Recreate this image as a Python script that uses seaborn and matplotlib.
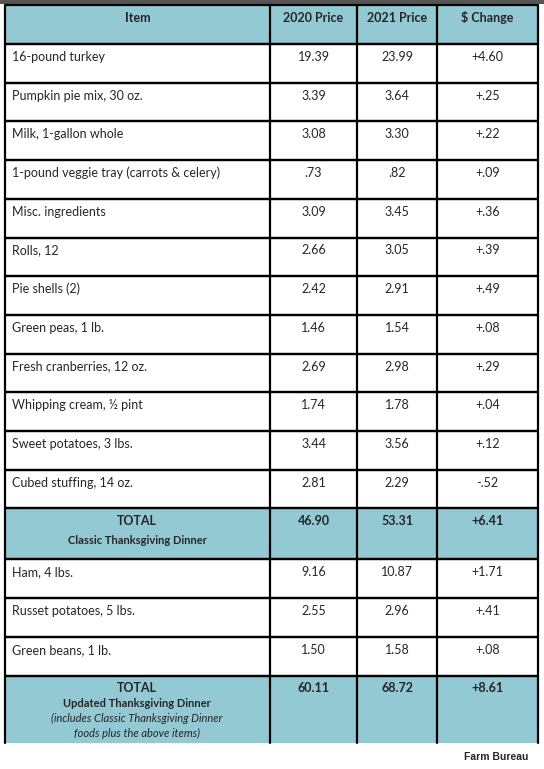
import matplotlib
matplotlib.use("Agg")
import matplotlib.pyplot as plt
import seaborn as sns
from matplotlib.patches import Rectangle

sns.set_theme(style="white")
plt.rcParams['font.family'] = ['Lato', 'DejaVu Sans']

headers = ["Item", "2020 Price", "2021 Price", "$ Change"]
items = ["16-pound turkey", "Pumpkin pie mix, 30 oz.", "Milk, 1-gallon whole",
         "1-pound veggie tray (carrots & celery)", "Misc. ingredients", "Rolls, 12",
         "Pie shells (2)", "Green peas, 1 lb.", "Fresh cranberries, 12 oz.",
         "Whipping cream, ½ pint", "Sweet potatoes, 3 lbs.", "Cubed stuffing, 14 oz."]
p2020 = ["19.39", "3.39", "3.08", ".73", "3.09", "2.66", "2.42", "1.46", "2.69", "1.74", "3.44", "2.81"]
p2021 = ["23.99", "3.64", "3.30", ".82", "3.45", "3.05", "2.91", "1.54", "2.98", "1.78", "3.56", "2.29"]
change = ["+4.60", "+.25", "+.22", "+.09", "+.36", "+.39", "+.49", "+.08", "+.29", "+.04", "+.12", "-.52"]
total1 = ["46.90", "53.31", "+6.41"]
items2 = ["Ham, 4 lbs.", "Russet potatoes, 5 lbs.", "Green beans, 1 lb."]
p2020_2 = ["9.16", "2.55", "1.50"]
p2021_2 = ["10.87", "2.96", "1.58"]
change2 = ["+1.71", "+.41", "+.08"]
total2 = ["60.11", "68.72", "+8.61"]

teal = "#92c9d3"
fig = plt.figure(figsize=(5.44, 7.69), dpi=100)
ax = fig.add_axes([0, 0, 1, 1])
ax.set_xlim(0, 544)
ax.set_ylim(769, 0)
ax.axis("off")

cols = [5, 270, 357, 437, 538]
ax.add_patch(Rectangle((0, 0), 544, 4, color="#555555", lw=0))
rows = []  # (top, bottom, kind)
rows.append((5, 44, "head"))
y = 44
h = 38.7
for i in range(12):
    rows.append((y, y + h, "item")); y += h
rows.append((y, y + 51, "tot1")); y += 51
for i in range(3):
    rows.append((y, y + h, "item2")); y += h
rows.append((y, 743, "tot2"))

fs = 9
k1 = 0; k2 = 0
for top, bot, kind in rows:
    if kind in ("head", "tot1", "tot2"):
        ax.add_patch(Rectangle((cols[0], top), cols[-1] - cols[0], bot - top, color=teal, lw=0))
    if kind == "head":
        for j, t in enumerate(headers):
            ax.text((cols[j] + cols[j + 1]) / 2, top + 13, t, ha="center", va="center", fontsize=fs, weight="bold")
    elif kind in ("item", "item2"):
        if kind == "item":
            vals = [items[k1], p2020[k1], p2021[k1], change[k1]]; k1 += 1
        else:
            vals = [items2[k2], p2020_2[k2], p2021_2[k2], change2[k2]]; k2 += 1
        ax.text(cols[0] + 7, top + 13, vals[0], ha="left", va="center", fontsize=fs)
        for j in range(1, 4):
            ax.text((cols[j] + cols[j + 1]) / 2, top + 13, vals[j], ha="center", va="center", fontsize=fs)
    elif kind == "tot1":
        ax.text(137, top + 13, "TOTAL", ha="center", va="center", fontsize=fs, weight="bold")
        ax.text(137, top + 32, "Classic Thanksgiving Dinner", ha="center", va="center", fontsize=8, weight="bold")
        for j in range(1, 4):
            ax.text((cols[j] + cols[j + 1]) / 2, top + 13, total1[j - 1], ha="center", va="center", fontsize=fs, weight="bold")
    else:
        ax.text(137, top + 12, "TOTAL", ha="center", va="center", fontsize=fs, weight="bold")
        ax.text(137, top + 28, "Updated Thanksgiving Dinner", ha="center", va="center", fontsize=8, weight="bold")
        ax.text(137, top + 43, "(includes Classic Thanksgiving Dinner", ha="center", va="center", fontsize=8, style="italic")
        ax.text(137, top + 58, "foods plus the above items)", ha="center", va="center", fontsize=8, style="italic")
        for j in range(1, 4):
            ax.text((cols[j] + cols[j + 1]) / 2, top + 12, total2[j - 1], ha="center", va="center", fontsize=fs, weight="bold")
    # horizontal borders
    ax.plot([cols[0], cols[-1]], [top, top], color="black", lw=1.6, solid_capstyle="butt")
    if kind != "tot2":
        ax.plot([cols[0], cols[-1]], [bot, bot], color="black", lw=1.6, solid_capstyle="butt")
for c in cols:
    ax.plot([c, c], [5, 743], color="black", lw=1.6)

ax.text(528, 757, "Farm Bureau", ha="right", va="center", fontsize=7.5, weight="bold",
        family=["Liberation Sans", "DejaVu Sans"])

fig.savefig("out.png", dpi=100)
